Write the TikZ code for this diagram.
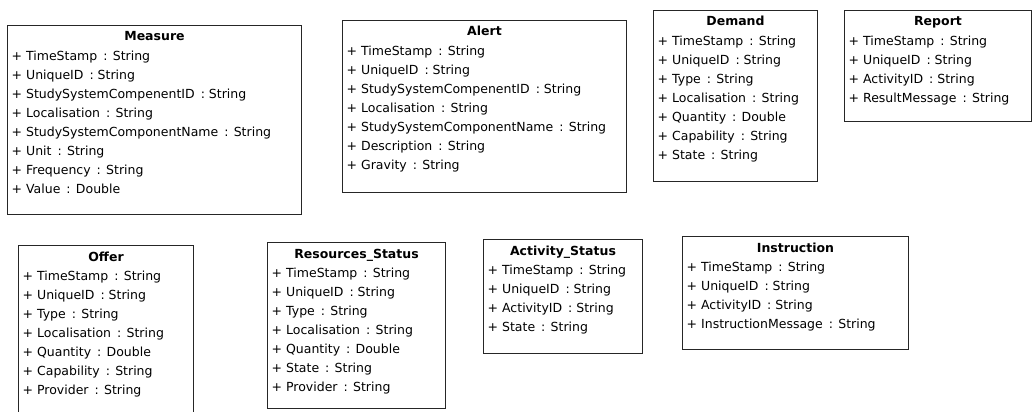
\documentclass[tikz,border=0pt]{standalone}
\usepackage{fontspec}
\setmainfont{DejaVu Sans}
\usetikzlibrary{calc}

\tikzset{
  classbox/.style={draw=black!85, line width=1pt, fill=white, rectangle,
                   anchor=north west, inner sep=0pt},
  classtitle/.style={anchor=base, inner sep=0pt,
                     font=\fontsize{12.5}{15}\selectfont\bfseries},
  attr/.style={anchor=base west, inner sep=0pt,
               font=\fontsize{12.5}{15}\selectfont},
}

% #1 name, #2 left, #3 top, #4 width, #5 height, #6 title, #7 name/type list
\newcommand\umlclass[7]{%
  \node[classbox, minimum width=#4pt, minimum height=#5pt] (#1) at (#2,-#3) {};
  \node[classtitle] (#1-title) at ($(#1.north)+(0,-16)$) {#6};
  \foreach \n/\t [count=\i] in {#7}
    \node[attr] (#1-a\i) at ($(#1.north west)+(4.5,-35.5-19*\i+19)$)
      {+ \n\hspace{6pt}: \t};
}

\begin{document}
\begin{tikzpicture}[x=1pt,y=1pt]
  \useasboundingbox (0,0) rectangle (1033,-412);

  \umlclass{measure}{7}{25}{294}{189}{Measure}{%
    TimeStamp/String, UniqueID/String, StudySystemCompenentID/String,
    Localisation/String, StudySystemComponentName/String, Unit/String,
    Frequency/String, Value/Double}

  \umlclass{alert}{342}{20}{284}{172}{Alert}{%
    TimeStamp/String, UniqueID/String, StudySystemCompenentID/String,
    Localisation/String, StudySystemComponentName/String,
    Description/String, Gravity/String}

  \umlclass{demand}{653}{10}{164}{171}{Demand}{%
    TimeStamp/String, UniqueID/String, Type/String, Localisation/String,
    Quantity/Double, Capability/String, State/String}

  \umlclass{report}{844}{10}{187}{111}{Report}{%
    TimeStamp/String, UniqueID/String, ActivityID/String,
    ResultMessage/String}

  \umlclass{offer}{18}{245}{175}{180}{Offer}{%
    TimeStamp/String, UniqueID/String, Type/String, Localisation/String,
    Quantity/Double, Capability/String, Provider/String}

  \umlclass{resources}{267}{242}{178}{166}{Resources\_Status}{%
    TimeStamp/String, UniqueID/String, Type/String, Localisation/String,
    Quantity/Double, State/String, Provider/String}

  \umlclass{activity}{483}{239}{159}{114}{Activity\_Status}{%
    TimeStamp/String, UniqueID/String, ActivityID/String, State/String}

  \umlclass{instruction}{682}{236}{226}{113}{Instruction}{%
    TimeStamp/String, UniqueID/String, ActivityID/String,
    InstructionMessage/String}
\end{tikzpicture}
\end{document}
